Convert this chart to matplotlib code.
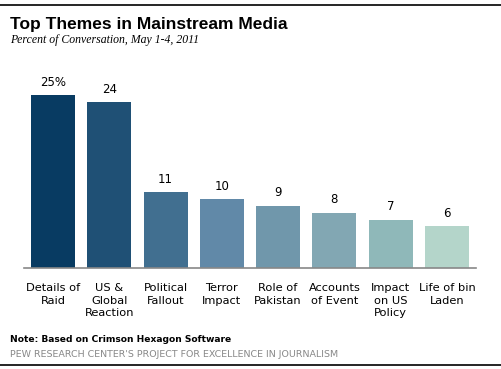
import matplotlib.pyplot as plt
from matplotlib.lines import Line2D

# data
themes = ['Details of\nRaid', 'US &\nGlobal\nReaction', 'Political\nFallout', 'Terror\nImpact',
          'Role of\nPakistan', 'Accounts\nof Event', 'Impact\non US\nPolicy', 'Life of bin\nLaden']
share = [25, 24, 11, 10, 9, 8, 7, 6]
value_text = ['25%', '24', '11', '10', '9', '8', '7', '6']
colors = ['#083b62', '#1f5075', '#416f90', '#6189a8', '#7097ab', '#82a7b3', '#8fb8b9', '#b4d5ca']

W, H = 501, 369
fig = plt.figure(figsize=(W / 100, H / 100), dpi=100)

# axes placed in pixel terms
ax = fig.add_axes([24 / W, 1 - 268 / H, (476 - 24) / W, 188 / H])
x = range(len(share))
ax.bar(x, share, width=0.78, color=colors)
ax.set_xlim(-0.515, 7.515)
ax.set_ylim(0, 188 / 6.92)

for i, v in enumerate(share):
    ax.text(i, v + 0.9, value_text[i], ha='center', va='bottom', fontsize=8.5, color='black')

for s in ['top', 'right', 'left']:
    ax.spines[s].set_visible(False)
ax.spines['bottom'].set_color('#888888')
ax.spines['bottom'].set_linewidth(1.2)
ax.set_yticks([])
ax.set_xticks(list(x))
ax.set_xticklabels(themes, fontsize=8.2, linespacing=1.3, va='top')
ax.tick_params(axis='x', length=0, pad=11)

# title block
fig.text(10 / W, 1 - 25 / H, 'Top Themes in Mainstream Media', fontsize=12.5,
         fontweight='bold', family='Liberation Sans', va='center')
fig.text(10 / W, 1 - 40 / H, 'Percent of Conversation, May 1-4, 2011', fontsize=8.5,
         style='italic', family='Liberation Serif', va='center')

# notes
fig.text(10 / W, 1 - 340 / H, 'Note: Based on Crimson Hexagon Software', fontsize=6.6,
         fontweight='bold', va='center')
fig.text(10 / W, 1 - 354.5 / H, "PEW RESEARCH CENTER'S PROJECT FOR EXCELLENCE IN JOURNALISM",
         fontsize=6.8, color='#888888', va='center')

# rules top and bottom
fig.add_artist(Line2D([0, 1], [1 - 4.5 / H, 1 - 4.5 / H], color='black', linewidth=1.2))
fig.add_artist(Line2D([0, 1], [1 - 364.5 / H, 1 - 364.5 / H], color='black', linewidth=1.2))

fig.savefig('out.png', dpi=100)
